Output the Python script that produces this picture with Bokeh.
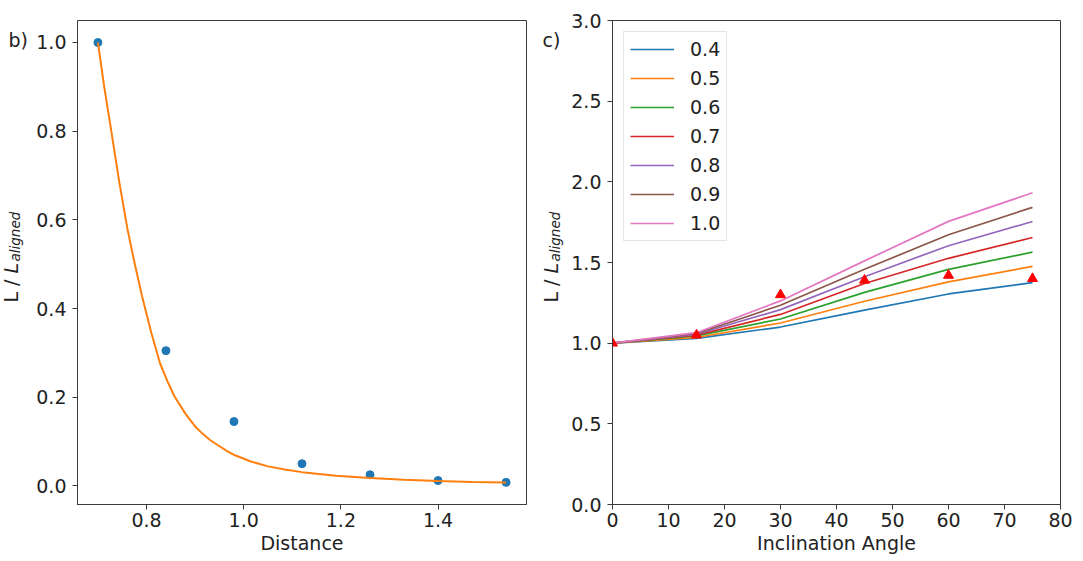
import math
from bokeh.plotting import figure
from bokeh.layouts import row
from bokeh.models import Range1d, FixedTicker, PrintfTickFormatter, Label
from bokeh.embed import file_html
from bokeh.resources import INLINE

# ---------------- data: panel b ----------------
dist = [0.70, 0.84, 0.98, 1.12, 1.26, 1.40, 1.54]
ratio = [1.0, 0.305, 0.145, 0.050, 0.025, 0.012, 0.008]

fit_x = [0.70, 0.713, 0.727, 0.744, 0.761, 0.776, 0.791, 0.81, 0.828, 0.843,
         0.858, 0.88, 0.90, 0.914, 0.93, 0.948, 0.965, 0.982, 1.015, 1.05,
         1.085, 1.12, 1.19, 1.26, 1.33, 1.40, 1.47, 1.54]
fit_y = [1.0, 0.90, 0.804, 0.685, 0.578, 0.50, 0.427, 0.345, 0.276, 0.236,
         0.201, 0.163, 0.134, 0.119, 0.104, 0.091, 0.079, 0.069, 0.055, 0.044,
         0.037, 0.031, 0.023, 0.018, 0.014, 0.011, 0.009, 0.0075]

# ---------------- data: panel c ----------------
angles = [0, 15, 30, 45, 60, 75]
series_names = ["0.4", "0.5", "0.6", "0.7", "0.8", "0.9", "1.0"]
s04 = [1.0, 1.030, 1.100, 1.205, 1.305, 1.375]
s05 = [1.0, 1.035, 1.125, 1.260, 1.380, 1.476]
s06 = [1.0, 1.045, 1.150, 1.315, 1.457, 1.564]
s07 = [1.0, 1.050, 1.178, 1.370, 1.526, 1.655]
s08 = [1.0, 1.055, 1.208, 1.412, 1.604, 1.754]
s09 = [1.0, 1.060, 1.235, 1.458, 1.672, 1.842]
s10 = [1.0, 1.065, 1.262, 1.510, 1.755, 1.932]
series_vals = [s04, s05, s06, s07, s08, s09, s10]
series_colors = ["#1f77b4", "#ff7f0e", "#2ca02c", "#d62728",
                 "#9467bd", "#8c564b", "#e377c2"]
meas_angle = [0, 15, 30, 45, 60, 75]
meas_val = [1.0, 1.05, 1.30, 1.39, 1.42, 1.40]

FONT = "DejaVu Sans"
FS = "19px"
SPINE = "#3a3a3a"
TXT = "#222222"
H = 560


def style(p, xlabel_text):
    p.outline_line_color = SPINE
    p.outline_line_width = 1
    p.outline_line_alpha = 1
    for ax in (p.xaxis[0], p.yaxis[0]):
        ax.axis_line_color = SPINE
        ax.major_tick_line_color = SPINE
        ax.major_tick_in = 0
        ax.major_tick_out = 5
        ax.minor_tick_line_color = None
        ax.major_label_text_font = FONT
        ax.major_label_text_font_size = FS
        ax.major_label_text_color = TXT
    p.xaxis[0].major_label_standoff = 3
    p.yaxis[0].major_label_standoff = 6
    p.xaxis[0].axis_label = xlabel_text
    p.xaxis[0].axis_label_text_font = FONT
    p.xaxis[0].axis_label_text_font_size = FS
    p.xaxis[0].axis_label_text_font_style = "normal"
    p.xaxis[0].axis_label_text_color = TXT
    p.xaxis[0].axis_label_standoff = 2
    p.xgrid.grid_line_color = None
    p.ygrid.grid_line_color = None
    p.background_fill_color = "white"
    p.border_fill_color = "white"


def label_strip(width, tag, tag_x, xb):
    """Narrow blank figure that carries the panel tag and the y-axis title."""
    s = figure(width=width, height=H, output_backend="svg",
               toolbar_location=None, x_axis_type=None, y_axis_type=None,
               min_border=0, x_range=Range1d(0, 1), y_range=Range1d(0, 1))
    s.outline_line_color = None
    s.grid.grid_line_color = None
    s.background_fill_color = "white"
    s.border_fill_color = "white"

    def lab(text, x, y, size=FS, style="normal", angle=0.0):
        s.add_layout(Label(x=x, y=y, x_units="canvas", y_units="canvas",
                           text=text, angle=angle, text_align="left",
                           text_baseline="alphabetic", text_font=FONT,
                           text_font_style=style, text_font_size=size,
                           text_color=TXT))

    lab(tag, tag_x, 39)
    ystart = 302
    lab("L /", xb, ystart, angle=math.pi / 2)
    lab("L", xb, ystart - 29, style="italic", angle=math.pi / 2)
    lab("aligned", xb + 4, ystart - 41, size="13.5px", style="italic",
        angle=math.pi / 2)
    return s


# ---------------- panel b ----------------
strip1 = label_strip(30, "b)", 8, 10)
p1 = figure(width=510, height=H, output_backend="svg", toolbar_location=None,
            min_border_left=47, min_border_right=14, min_border_top=20,
            min_border_bottom=56,
            x_range=Range1d(0.658, 1.582), y_range=Range1d(-0.042, 1.0496))
style(p1, "Distance")
p1.xaxis[0].ticker = FixedTicker(ticks=[0.8, 1.0, 1.2, 1.4])
p1.yaxis[0].ticker = FixedTicker(ticks=[0.0, 0.2, 0.4, 0.6, 0.8, 1.0])
p1.xaxis[0].formatter = PrintfTickFormatter(format="%.1f")
p1.yaxis[0].formatter = PrintfTickFormatter(format="%.1f")
p1.scatter(dist, ratio, size=8, color="#1f77b4", marker="circle")
p1.line(fit_x, fit_y, line_color="#ff7f0e", line_width=2)

# ---------------- panel c ----------------
strip2 = label_strip(28, "c)", 2, 10)
p2 = figure(width=507, height=H, output_backend="svg", toolbar_location=None,
            min_border_left=44, min_border_right=15, min_border_top=20,
            min_border_bottom=56,
            x_range=Range1d(0, 80), y_range=Range1d(0, 3.0))
style(p2, "Inclination Angle")
p2.xaxis[0].ticker = FixedTicker(ticks=[0, 10, 20, 30, 40, 50, 60, 70, 80])
p2.yaxis[0].ticker = FixedTicker(ticks=[0.0, 0.5, 1.0, 1.5, 2.0, 2.5, 3.0])
p2.xaxis[0].formatter = PrintfTickFormatter(format="%d")
p2.yaxis[0].formatter = PrintfTickFormatter(format="%.1f")
for name, vals, col in zip(series_names, series_vals, series_colors):
    p2.line(angles, vals, line_color=col, line_width=1.7, legend_label=name)
p2.scatter(meas_angle, meas_val, marker="triangle", size=10, color="red")
lg = p2.legend[0]
lg.location = "top_left"
lg.margin = 11
lg.padding = 6
lg.spacing = 7
lg.glyph_width = 44
lg.glyph_height = 22
lg.label_height = 22
lg.label_standoff = 16
lg.label_text_font = FONT
lg.label_text_font_size = FS
lg.label_text_color = TXT
lg.border_line_color = "#cccccc"
lg.border_line_width = 1
lg.background_fill_alpha = 0.85

layout = row(strip1, p1, strip2, p2)
open("out.html", "w").write(file_html(layout, INLINE))
